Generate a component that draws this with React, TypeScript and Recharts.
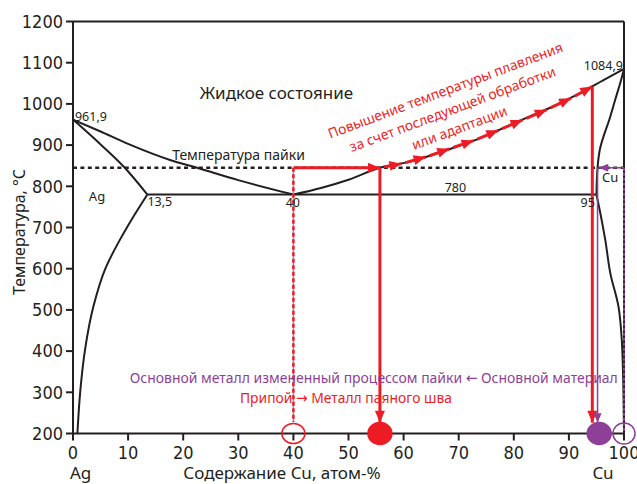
import React from 'react';
import { ComposedChart, Line, Scatter, XAxis, YAxis, ReferenceLine, ReferenceDot } from 'recharts';

// ---------- data (composition in at.% Cu, temperature in °C) ----------
const xTicks = [0, 10, 20, 30, 40, 50, 60, 70, 80, 90, 100];
const yTicks = [200, 300, 400, 500, 600, 700, 800, 900, 1000, 1100, 1200];

const liquidusAg = [
  { x: 0, t: 961.9 }, { x: 5, t: 933 }, { x: 10, t: 903 }, { x: 17.6, t: 864 },
  { x: 22.5, t: 845 }, { x: 30, t: 815 }, { x: 40, t: 780 },
];
const solidusAg = [{ x: 0, t: 961.9 }, { x: 4, t: 914 }, { x: 9.4, t: 845 }, { x: 13.5, t: 780 }];
const solvusAg = [
  { x: 13.5, t: 780 }, { x: 10, t: 705 }, { x: 8.5, t: 670 }, { x: 5.8, t: 598 },
  { x: 3.7, t: 508 }, { x: 2.2, t: 405 }, { x: 1.3, t: 300 }, { x: 0.8, t: 200 },
];
const eutectic = [{ x: 13.5, t: 780 }, { x: 95, t: 780 }];
const liquidusCu = [
  { x: 40, t: 780 }, { x: 45, t: 796 }, { x: 50, t: 816 }, { x: 55.7, t: 845 },
  { x: 60.6, t: 858 }, { x: 65.4, t: 877 }, { x: 69.6, t: 896 }, { x: 74.5, t: 920 },
  { x: 78.7, t: 945 }, { x: 83.5, t: 973 }, { x: 87.8, t: 998 }, { x: 92, t: 1026 },
  { x: 96.2, t: 1057 }, { x: 100, t: 1084.9 },
];
const solidusCu = [
  { x: 100, t: 1084.9 }, { x: 99.3, t: 1050 }, { x: 98.4, t: 1010 }, { x: 97.5, t: 969 },
  { x: 95.6, t: 888 }, { x: 95.2, t: 845 }, { x: 95, t: 780 },
];
const solvusCu = [
  { x: 95, t: 780 }, { x: 95.6, t: 742 }, { x: 96.6, t: 670 }, { x: 97.5, t: 590 },
  { x: 99, t: 508 }, { x: 99.6, t: 427 }, { x: 99.9, t: 300 }, { x: 100, t: 200 },
];
const brazingTemp = [{ x: 0, t: 845 }, { x: 100, t: 845 }];

// red arrows climbing the liquidus (tips)
const arrowTips = [
  { x: 55.7, t: 845 }, { x: 59.6, t: 855 }, { x: 64, t: 871 }, { x: 68.3, t: 891 },
  { x: 72.7, t: 911 }, { x: 77.2, t: 936 }, { x: 81.6, t: 961 }, { x: 86, t: 986 },
  { x: 90.4, t: 1014 }, { x: 94.25, t: 1042 },
];

const solderDrop = [{ x: 40, t: 845 }, { x: 40, t: 228 }];
const heatedToLiquidus = [{ x: 40, t: 845 }, { x: 55.7, t: 845 }];
const seamDrop = [{ x: 55.7, t: 845 }, { x: 55.7, t: 226 }];
const seamFinalDrop = [{ x: 94.25, t: 1042 }, { x: 94.25, t: 226 }];
const baseModDrop = [{ x: 95.2, t: 845 }, { x: 95.2, t: 226 }];
const baseOrigDrop = [{ x: 100, t: 845 }, { x: 100, t: 200 }];
const baseShift = [{ x: 100, t: 845 }, { x: 95.4, t: 845 }];

const solderPoint = [{ x: 40, t: 200 }];
const seamPoint = [{ x: 55.7, t: 200 }];
const baseModPoint = [{ x: 95.5, t: 200 }];
const baseOrigPoint = [{ x: 100, t: 200 }];

// ---------- styles ----------
const W = 637;
const H = 484;
const INK = '#231f20';
const RED = '#ed1c24';
const PURPLE = '#8e3f98';
const TEXT_FONT = "'Noto Sans', 'DejaVu Sans', sans-serif";
const TICK_FONT = "'Liberation Sans Narrow', 'DejaVu Sans Condensed', Roboto, sans-serif";

const curve = (key: string, data: any[], type: any, stroke: string, width: number, extra: any = {}) => (
  <Line
    key={key}
    data={data}
    dataKey="t"
    type={type}
    stroke={stroke}
    strokeWidth={width}
    dot={false}
    activeDot={false}
    isAnimationActive={false}
    legendType="none"
    {...extra}
  />
);

const note = (key: string, x: number, t: number, text: string, opts: any = {}) => (
  <ReferenceDot
    key={key}
    x={x}
    y={t}
    r={0}
    ifOverflow="visible"
    shape={(p: any) => (
      <text
        x={p.cx}
        y={p.cy}
        textAnchor={opts.anchor || 'start'}
        fontSize={opts.size || 13}
        fill={opts.color || INK}
        fontFamily={opts.font || TEXT_FONT}
        textLength={opts.len}
        lengthAdjust={opts.len ? 'spacingAndGlyphs' : undefined}
      >
        {text}
      </text>
    )}
  />
);

const ellipseShape = (fill: string, stroke: string, rx: number, ry: number) => (p: any) => (
  <ellipse cx={p.cx} cy={p.cy} rx={rx} ry={ry} fill={fill} stroke={stroke} strokeWidth={1.5} />
);

const xTitle = (props: any) => {
  const vb = props && props.viewBox ? props.viewBox : { x: 73, y: 433.5, width: 551, height: 50.5 };
  const base = vb.y + 45.5;
  return (
    <g fontFamily={TEXT_FONT} fontSize={17} fill={INK}>
      <text x={vb.x - 3} y={base} textAnchor="start">Ag</text>
      <text x={vb.x + 209} y={base} textAnchor="middle">Содержание Cu, атом-%</text>
      <text x={vb.x + vb.width - 21} y={base} textAnchor="middle">Cu</text>
    </g>
  );
};

const yTitle = (props: any) => {
  const vb = props && props.viewBox ? props.viewBox : { x: 0, y: 21.5, width: 73, height: 412 };
  const x = vb.x + 25;
  const y = vb.y + 210.5;
  return (
    <text x={x} y={y} transform={`rotate(-90, ${x}, ${y})`} textAnchor="middle" fontFamily={TEXT_FONT} fontSize={16} fill={INK}>
      Температура, °C
    </text>
  );
};

export default function App() {
  const arrowSegments = arrowTips.slice(1).map((tip, i) => [arrowTips[i], tip]);
  return (
    <div style={{ position: 'absolute', left: 0, top: 0, width: W, height: H, background: '#fff' }}>
      <svg width={0} height={0} style={{ position: 'absolute' }}>
        <defs>
          <marker id="headRed" viewBox="0 0 12 10" refX="12" refY="5" markerUnits="userSpaceOnUse" markerWidth="13" markerHeight="10" orient="auto">
            <path d="M0,0 L12,5 L0,10 Z" fill={RED} />
          </marker>
          <marker id="headRedLiq" viewBox="0 0 12 10" refX="12" refY="5" markerUnits="userSpaceOnUse" markerWidth="13" markerHeight="10" orient="auto">
            <path d="M0,0 L12,5 L0,10 Z" fill={RED} />
          </marker>
          <marker id="headPurple" viewBox="0 0 12 10" refX="12" refY="5" markerUnits="userSpaceOnUse" markerWidth="11" markerHeight="8" orient="auto">
            <path d="M0,0 L12,5 L0,10 Z" fill={PURPLE} />
          </marker>
        </defs>
      </svg>
      <ComposedChart width={W} height={H} margin={{ top: 21.5, right: 13, bottom: 0, left: 0 }}>
        <XAxis
          type="number"
          dataKey="x"
          domain={[0, 100]}
          ticks={xTicks}
          interval={0}
          height={50.5}
          tickSize={7}
          tickMargin={6}
          stroke={INK}
          strokeWidth={2}
          tick={{ fontSize: 18, fill: INK, fontFamily: TICK_FONT }}
          label={xTitle}
        />
        <YAxis
          type="number"
          domain={[200, 1200]}
          ticks={yTicks}
          interval={0}
          width={73}
          tickSize={7}
          tickMargin={3}
          stroke={INK}
          strokeWidth={2}
          tick={{ fontSize: 18, fill: INK, fontFamily: TICK_FONT }}
          label={yTitle}
        />
        <ReferenceLine y={1200} stroke={INK} strokeWidth={2} />
        <ReferenceLine x={100} stroke={INK} strokeWidth={2} />

        {curve('brazing', brazingTemp, 'linear', INK, 2.6, { strokeDasharray: '4 3.4' })}
        {curve('liqAg', liquidusAg, 'monotone', INK, 2)}
        {curve('solAg', solidusAg, 'monotone', INK, 2)}
        {curve('solvAg', solvusAg, 'monotoneY', INK, 2)}
        {curve('eut', eutectic, 'linear', INK, 2)}
        {curve('liqCu', liquidusCu, 'monotone', INK, 2)}
        {curve('solCu', solidusCu, 'monotoneY', INK, 2)}
        {curve('solvCu', solvusCu, 'monotoneY', INK, 2)}

        {curve('solderDropP', solderDrop, 'linear', '#a98bc4', 1.5)}
        {curve('solderDrop', solderDrop, 'linear', RED, 2.5, { strokeDasharray: '4 2.5' })}
        {curve('heated', heatedToLiquidus, 'linear', RED, 3, { markerEnd: 'url(#headRed)' })}
        {curve('seamDrop', seamDrop, 'linear', RED, 3, { markerEnd: 'url(#headRed)' })}
        {arrowSegments.map((seg, i) =>
          curve('liqArrow' + i, seg, 'linear', RED, 3, { markerEnd: 'url(#headRedLiq)', strokeDasharray: '0 4 400' })
        )}
        {curve('seamFinal', seamFinalDrop, 'linear', RED, 3, { markerEnd: 'url(#headRed)' })}
        {curve('baseMod', baseModDrop, 'linear', PURPLE, 1.5, { markerEnd: 'url(#headPurple)' })}
        {curve('baseOrig', baseOrigDrop, 'linear', PURPLE, 2, { strokeDasharray: '3 2' })}
        {curve('baseShift', baseShift, 'linear', PURPLE, 1.5, { markerEnd: 'url(#headPurple)' })}

        <Scatter data={solderPoint} dataKey="t" isAnimationActive={false} legendType="none" shape={ellipseShape('none', RED, 11.5, 10)} />
        <Scatter data={seamPoint} dataKey="t" isAnimationActive={false} legendType="none" shape={ellipseShape(RED, RED, 12, 11)} />
        <Scatter data={baseModPoint} dataKey="t" isAnimationActive={false} legendType="none" shape={ellipseShape(PURPLE, PURPLE, 12, 11)} />
        <Scatter data={baseOrigPoint} dataKey="t" isAnimationActive={false} legendType="none" shape={ellipseShape('none', PURPLE, 11, 10.5)} />

        {note('liquid', 23.0, 1012, 'Жидкое состояние', { size: 17 })}
        {note('tAg', 0.36, 959, '961,9', { size: 12.5 })}
        {note('tCu', 99.8, 1082, '1084,9', { size: 12.5, anchor: 'end' })}
        {note('braze', 18.0, 864, 'Температура пайки', { size: 14 })}
        {note('ag', 4.36, 765, 'Ag', { size: 13, anchor: 'middle' })}
        {note('c135', 13.5, 752, '13,5', { size: 12.5 })}
        {note('c40', 39.9, 750.5, '40', { size: 12.5, anchor: 'middle' })}
        {note('t780', 69.4, 787, '780', { size: 12.5, anchor: 'middle' })}
        {note('c95', 94.7, 750.5, '95', { size: 12.5, anchor: 'end' })}
        {note('cu', 97.5, 811, 'Cu', { size: 13, anchor: 'middle' })}
        {note('purple', 10.3, 322.6, 'Основной металл измененный процессом пайки ← Основной материал', { size: 14.5, color: PURPLE, len: 488 })}
        {note('red', 30.3, 274.8, 'Припой → Металл паяного шва', { size: 14.5, color: RED, len: 212 })}
        <ReferenceDot
          x={67.9}
          y={1021.6}
          r={0}
          ifOverflow="visible"
          shape={(p: any) => (
            <g transform={`translate(${p.cx},${p.cy}) rotate(-20.5)`} fontFamily={TEXT_FONT} fontSize={13.8} fill={RED} textAnchor="middle">
              <text x={0} y={0}>Повышение температуры плавления</text>
              <text x={0} y={20}>за счет последующей обработки</text>
              <text x={0} y={40}>или адаптации</text>
            </g>
          )}
        />
      </ComposedChart>
    </div>
  );
}
